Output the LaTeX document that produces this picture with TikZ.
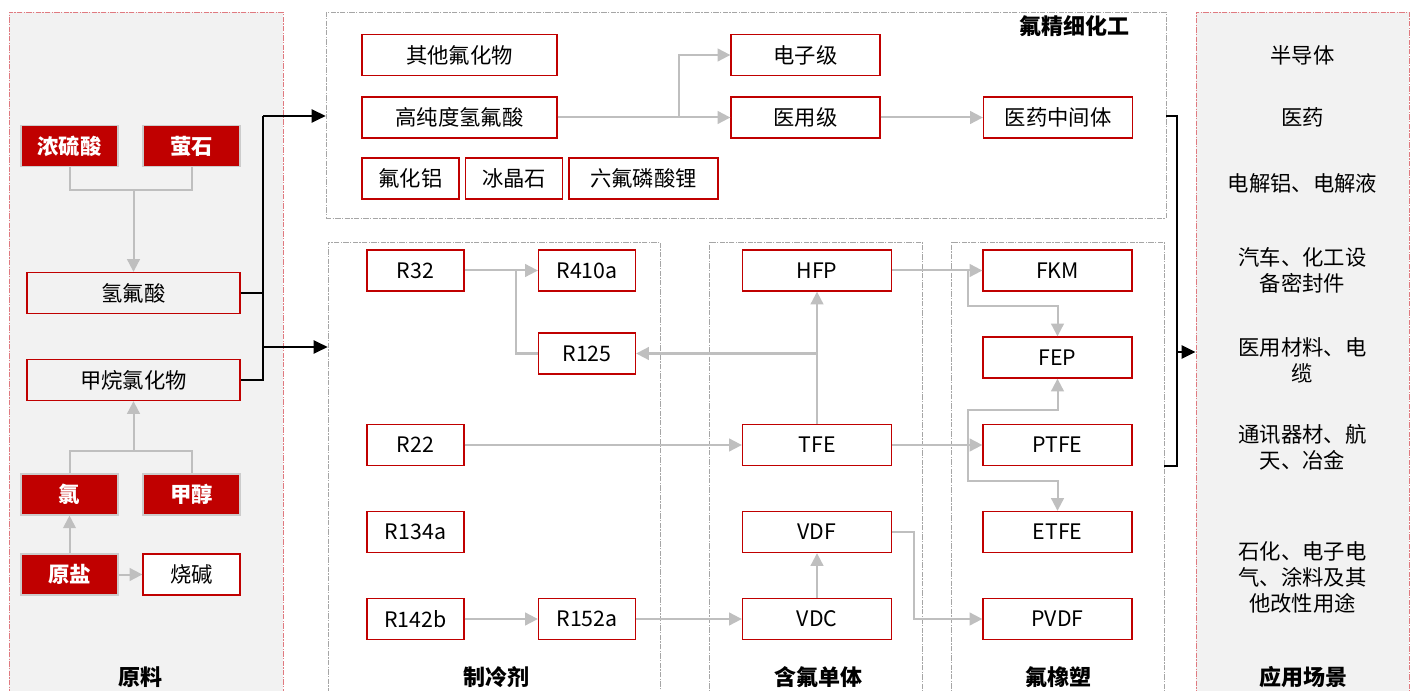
\documentclass[tikz,border=0pt]{standalone}
\usepackage{fontspec}
\setmainfont{Noto Sans CJK SC}
\usetikzlibrary{arrows.meta,calc}
\definecolor{boxred}{HTML}{C00000}
\definecolor{panelred}{HTML}{E07A80}
\definecolor{panelgray}{HTML}{A6A6A6}
\definecolor{panelfill}{HTML}{F2F2F2}
\definecolor{arrgray}{HTML}{BFBFBF}
\begin{document}
\begin{tikzpicture}[x=0.75pt,y=-0.75pt,
 font=\fontsize{16}{19.5}\selectfont,
 panelR/.style={draw=panelred, fill=panelfill, line width=0.7pt, inner sep=0pt, dash pattern=on 4pt off 1pt on 1pt off 1pt},
 panelG/.style={draw=panelgray, line width=0.6pt, inner sep=0pt, dash pattern=on 4pt off 1pt on 1pt off 1pt},
 box/.style={draw=boxred, line width=1pt, inner sep=0pt, minimum height=30.75pt, minimum width=72.75pt},
 rbox/.style={fill=boxred, draw=gray!40, line width=0.8pt, text=white, font=\fontsize{16}{19}\selectfont\bfseries, inner sep=0pt, minimum height=30.75pt, minimum width=72.75pt},
 w149/.style={minimum width=111.75pt},
 w195/.style={minimum width=146.25pt},
 w213/.style={minimum width=159.75pt},
 gline/.style={draw=arrgray, line width=1.5pt},
 garrow/.style={gline, -{Triangle[length=9.5pt,width=9.5pt]}},
 bline/.style={draw=black, line width=1.4pt},
 barrow/.style={bline, -{Triangle[length=10.5pt,width=10pt]}},
 title/.style={font=\fontsize{16.5}{20}\selectfont\bfseries},
 apptext/.style={align=center, font=\fontsize{16}{19.5}\selectfont}
]
\useasboundingbox (0,0) rectangle (1416,691);
% panels
\node[panelR, minimum width=205.5pt, minimum height=516pt] (raw) at (146,356) {};
\node[panelG, minimum width=630pt, minimum height=154.5pt] (fine) at (746,115) {};
\node[panelG, minimum width=249pt, minimum height=343.5pt] (refr) at (494,471) {};
\node[panelG, minimum width=159.75pt, minimum height=343.5pt] (mono) at (815.5,471) {};
\node[panelG, minimum width=159.75pt, minimum height=343.5pt] (plast) at (1057.5,471) {};
\node[panelR, minimum width=159.75pt, minimum height=516pt] (app) at (1302.5,356) {};
% panel titles
\node[title] (t1) at (140,677) {原料};
\node[title] (t2) at (496,677) {制冷剂};
\node[title] (t3) at (818,677) {含氟单体};
\node[title] (t4) at (1058,677) {氟橡塑};
\node[title] (t5) at (1303,677) {应用场景};
\node[title, anchor=east] (t6) at (1134,26) {氟精细化工};
% raw materials
\node[rbox] (nsa) at (69.5,146) {浓硫酸};
\node[rbox] (ys) at (191.5,146) {萤石};
\node[box, w213] (hf) at (133.5,293) {氢氟酸};
\node[box, w213] (ch) at (133.5,380) {甲烷氯化物};
\node[rbox] (cl) at (69.5,494.5) {氯};
\node[rbox] (meoh) at (191.5,494.5) {甲醇};
\node[rbox] (salt) at (69.5,574.5) {原盐};
\node[box, fill=white] (naoh) at (191.5,574.5) {烧碱};
\coordinate (j1) at (133.5,190);
\coordinate (j2) at (133.5,451);
\draw[gline] (nsa.south) |- (j1) -| (ys.south);
\draw[garrow] (j1) -- (hf.north);
\draw[gline] (cl.north) |- (j2) -| (meoh.north);
\draw[garrow] (j2) -- (ch.south);
\draw[garrow] (salt.north) -- (cl.south);
\draw[garrow] (salt.east) -- (naoh.west);
% black distribution
\coordinate (b1) at (263,116);
\coordinate (b2) at (263,347);
\draw[bline] (hf.east) -- (hf.east -| b1);
\draw[bline] (ch.east) -| (b1);
\draw[barrow] (b1) -- (b1 -| fine.west);
\draw[barrow] (b2) -- (b2 -| refr.west);
% fine chemicals
\node[box, w195] (oth) at (459.5,55) {其他氟化物};
\node[box, w195] (hphf) at (459.5,117.5) {高纯度氢氟酸};
\node[box] (alf) at (410.5,178.5) {氟化铝};
\node[box] (cryo) at (514,178.5) {冰晶石};
\node[box, w149] (lipf) at (643.5,178.5) {六氟磷酸锂};
\node[box, w149] (elec) at (805.5,55) {电子级};
\node[box, w149] (med) at (805.5,117.5) {医用级};
\node[box, w149] (pharm) at (1058,117.5) {医药中间体};
\coordinate (j3) at (679,117.5);
\draw[garrow] (hphf.east) -- (med.west);
\draw[garrow] (j3) |- (elec.west);
\draw[garrow] (med.east) -- (pharm.west);
% refrigerants
\node[box] (r32) at (415.5,270.5) {R32};
\node[box] (r410) at (587,270.5) {R410a};
\node[box] (r125) at (587,353.5) {R125};
\node[box] (r22) at (415.5,445) {R22};
\node[box] (r134) at (415.5,532) {R134a};
\node[box] (r142) at (415.5,619) {R142b};
\node[box] (r152) at (587,619) {R152a};
% monomers
\node[box, w149] (hfp) at (817,270.5) {HFP};
\node[box, w149] (tfe) at (817,445) {TFE};
\node[box, w149] (vdf) at (817,532) {VDF};
\node[box, w149] (vdc) at (817,619) {VDC};
% plastics
\node[box, w149] (fkm) at (1057.5,270.5) {FKM};
\node[box, w149] (fep) at (1057.5,357.5) {FEP};
\node[box, w149] (ptfe) at (1057.5,445) {PTFE};
\node[box, w149] (etfe) at (1057.5,532) {ETFE};
\node[box, w149] (pvdf) at (1057.5,619) {PVDF};
% refrigerant links
\coordinate (j4) at (516,270.5);
\draw[garrow] (r32.east) -- (r410.west);
\draw[gline] (r125.west) -| (j4);
\draw[garrow] (r22.east) -- (tfe.west);
\draw[garrow] (r142.east) -- (r152.west);
\draw[garrow] (r152.east) -- (vdc.west);
% monomer links
\draw[garrow] (tfe.north) -- (hfp.south);
\coordinate (j5) at (tfe.north |- r125.east);
\draw[garrow] (j5) -- (r125.east);
\draw[garrow] (vdc.north) -- (vdf.south);
\draw[garrow] (vdf.east) -- ++(22,0) |- (pvdf.west);
% plastic links
\coordinate (j6) at (968,270.5);
\coordinate (j7) at (968,445);
\draw[garrow] (hfp.east) -- (fkm.west);
\draw[garrow] (j6) |- ($(fep.north)+(0,-30)$) -- (fep.north);
\draw[garrow] (tfe.east) -- (ptfe.west);
\draw[garrow] (j7) |- ($(fep.south)+(0,31)$) -- (fep.south);
\draw[garrow] (j7) |- ($(etfe.north)+(0,-30)$) -- (etfe.north);
% applications
\node[apptext] (a1) at (1302.5,55) {半导体};
\node[apptext] (a2) at (1302.5,117) {医药};
\node[apptext] (a3) at (1302.5,183) {电解铝、电解液};
\node[apptext] (a4) at (1302.5,270) {汽车、化工设\\备密封件};
\node[apptext] (a5) at (1302.5,360) {医用材料、电\\缆};
\node[apptext] (a6) at (1302.5,447) {通讯器材、航\\天、冶金};
\node[apptext] (a7) at (1302.5,577) {石化、电子电\\气、涂料及其\\他改性用途};
% black links to applications
\coordinate (c1) at (1177,116);
\coordinate (c2) at (1177,466);
\coordinate (c3) at (1177,352);
\draw[bline] (c1 -| fine.east) -- (c1) -- (c2) -- (c2 -| plast.east);
\draw[barrow] (c3) -- (c3 -| app.west);
\end{tikzpicture}
\end{document}
